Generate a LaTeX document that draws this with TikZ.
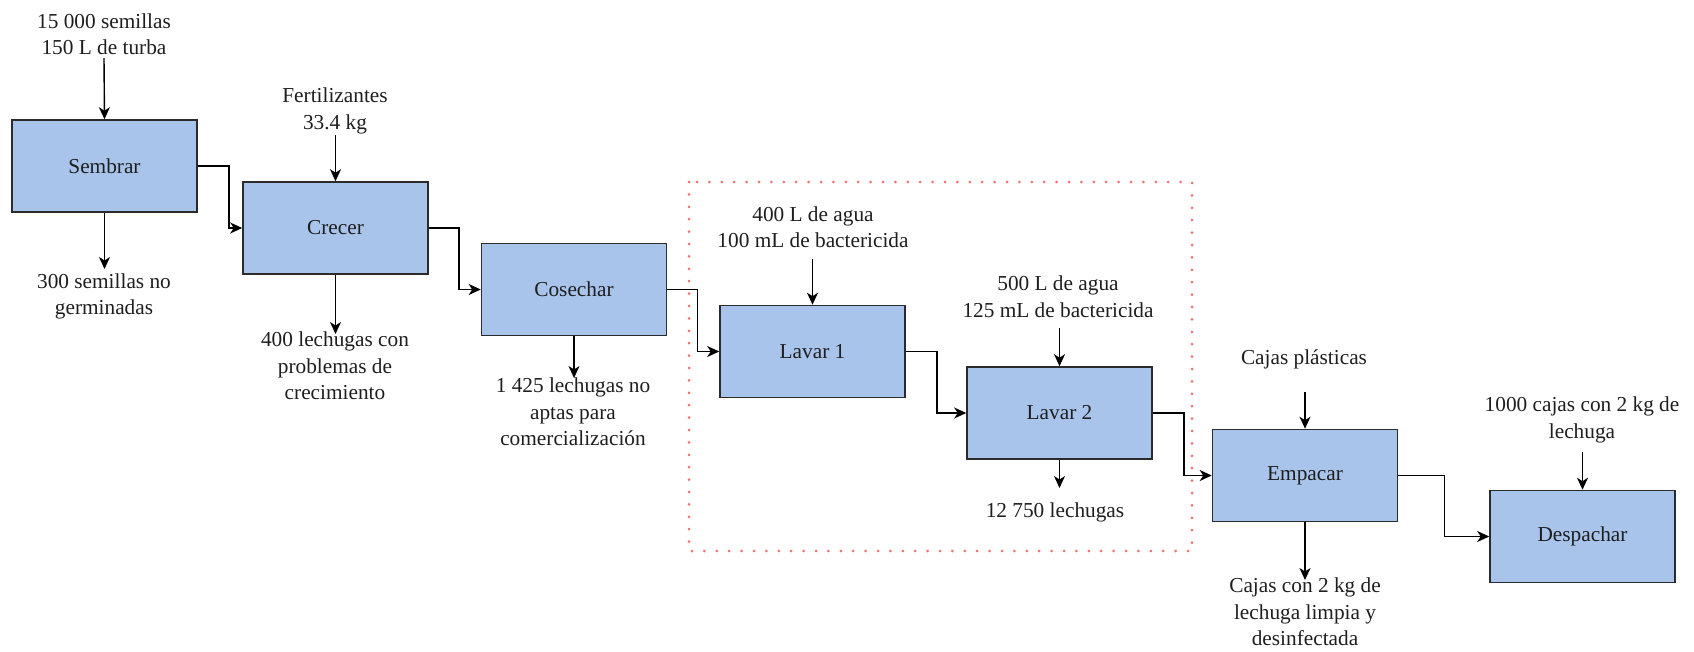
\documentclass[tikz,border=0pt]{standalone}
\usepackage{fontspec}
\setmainfont{Liberation Serif}
\usetikzlibrary{arrows.meta}

\definecolor{boxfill}{HTML}{A9C4EB}
\definecolor{boxline}{HTML}{2B2B2B}
\definecolor{txt}{HTML}{1E1E1E}
\definecolor{zone}{HTML}{F07070}

\tikzset{
  stepbox/.style={rectangle, draw=boxline, fill=boxfill, line width=1.6pt,
    minimum width=185pt, minimum height=92pt, inner sep=0pt,
    text=txt, font=\fontsize{21.3}{26.5}\selectfont},
  lbl/.style={align=center, inner sep=0pt, text=txt,
    font=\fontsize{21.3}{26.5}\selectfont},
  flow/.style={draw=black, line width=1.4pt,
    -{Stealth[length=12pt,width=11pt,inset=3.5pt]}},
  wet/.style={draw=zone, line width=3pt, line cap=round,
    dash pattern=on 0pt off 12.4pt}
}

\begin{document}
\begin{tikzpicture}[x=1pt,y=-1pt]
\useasboundingbox (0,0) rectangle (1694,651);

% washing stage
\draw[wet] (689,182) rectangle (1192,551);

% process steps
\node[stepbox] (sembrar)   at (104.5,166)  {Sembrar};
\node[stepbox] (crecer)    at (335.5,228)  {Crecer};
\node[stepbox] (cosechar)  at (574,289.5)  {Cosechar};
\node[stepbox] (lavar1)    at (812.5,351.5){Lavar 1};
\node[stepbox] (lavar2)    at (1059.5,413) {Lavar 2};
\node[stepbox] (empacar)   at (1305,475.5) {Empacar};
\node[stepbox] (despachar) at (1582.5,536.5){Despachar};

% inputs
\node[lbl] (in1) at (104,34)    {15 000 semillas\\150 L de turba};
\node[lbl] (in2) at (335,111)   {Fertilizantes\\33.4 kg};
\node[lbl] (in4) at (813,227)   {400 L de agua\\100 mL de bactericida};
\node[lbl] (in5) at (1058,296.5){500 L de agua\\125 mL de bactericida};
\node[lbl] (in6) at (1304,359)  {Cajas plásticas};
\node[lbl] (in7) at (1582,420)  {1000 cajas con 2 kg de\\lechuga};

% outputs
\node[lbl] (out1) at (104,296.5) {300 semillas no\\germinadas};
\node[lbl] (out2) at (335,366)   {400 lechugas con\\problemas de\\crecimiento};
\node[lbl] (out3) at (573,412)   {1 425 lechugas no\\aptas para\\comercialización};
\node[lbl] (out5) at (1055,512)  {12 750 lechugas};
\node[lbl] (out6) at (1305,612)  {Cajas con 2 kg de\\lechuga limpia y\\desinfectada};

% free ends of the input and output arrows
\coordinate (s1) at (104,58);
\coordinate (s2) at (335.5,135);
\coordinate (s4) at (812.5,259);
\coordinate (s5) at (1059.5,328);
\coordinate (s6) at (1305,392);
\coordinate (s7) at (1582.5,452);
\coordinate (e1) at (104.5,269);
\coordinate (e2) at (335.5,334);
\coordinate (e3) at (574,378);
\coordinate (e5) at (1059.5,488);
\coordinate (e6) at (1305,580);

\draw[flow] (s1) -- (sembrar.north);
\draw[flow] (s2) -- (crecer.north);
\draw[flow] (s4) -- (lavar1.north);
\draw[flow] (s5) -- (lavar2.north);
\draw[flow] (s6) -- (empacar.north);
\draw[flow] (s7) -- (despachar.north);

\draw[flow] (sembrar.south)  -- (e1);
\draw[flow] (crecer.south)   -- (e2);
\draw[flow] (cosechar.south) -- (e3);
\draw[flow] (lavar2.south)   -- (e5);
\draw[flow] (empacar.south)  -- (e6);

% main line
\draw[flow] (sembrar.east)  -- ++(31,0) |- (crecer.west);
\draw[flow] (crecer.east)   -- ++(30,0) |- (cosechar.west);
\draw[flow] (cosechar.east) -- ++(30,0) |- (lavar1.west);
\draw[flow] (lavar1.east)   -- ++(31,0) |- (lavar2.west);
\draw[flow] (lavar2.east)   -- ++(31,0) |- (empacar.west);
\draw[flow] (empacar.east)  -- ++(46,0) |- (despachar.west);
\end{tikzpicture}
\end{document}
